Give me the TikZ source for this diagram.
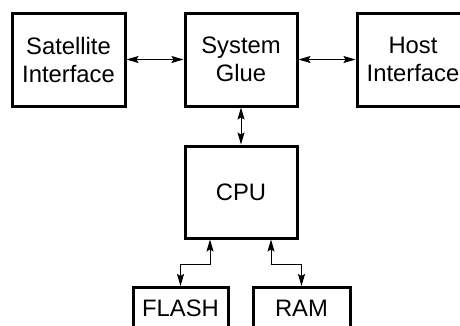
\documentclass[tikz,border=0pt]{standalone}
\usepackage{fontspec}
\setmainfont{Liberation Sans}
\usetikzlibrary{arrows.meta}
\begin{document}
\begin{tikzpicture}[x=1pt,y=-1pt,
  blk/.style={draw=black,line width=3pt,inner sep=0pt,align=center,
    font=\fontsize{23.8}{28}\selectfont},
  link/.style={line width=1pt,{Stealth[length=12pt,width=7pt,inset=2pt]}-{Stealth[length=12pt,width=7pt,inset=2pt]}}]
\useasboundingbox (0,0) rectangle (460,325);
\node[blk,minimum width=113,minimum height=93] (sat) at (68.5,59.5) {Satellite\\Interface};
\node[blk,minimum width=112,minimum height=93] (glue) at (241,59.5) {System\\Glue};
\node[blk,minimum width=112,minimum height=93] (host) at (413,59.5) {Host\\Interface};
\node[blk,minimum width=112,minimum height=92] (cpu) at (241,192) {CPU};
\node[blk,minimum width=95,minimum height=41] (flash) at (180.5,308) {FLASH};
\node[blk,minimum width=97,minimum height=41] (ram) at (301.5,308) {RAM};
\draw[link] (sat.east) -- (glue.west);
\draw[link] (glue.east) -- (host.west);
\draw[link] (glue.south) -- (cpu.north);
\draw[link] ([xshift=-31]cpu.south) |- (180.5,264) -- (flash.north);
\draw[link] ([xshift=30]cpu.south) |- (301.5,264) -- (ram.north);
\end{tikzpicture}
\end{document}
